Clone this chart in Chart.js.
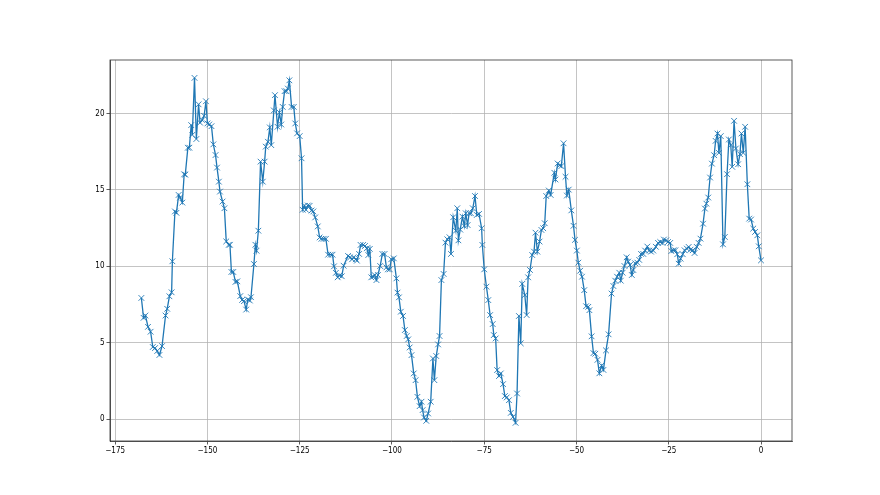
<!DOCTYPE html>
<html>
<head>
<meta charset="utf-8">
<script src="https://cdn.jsdelivr.net/npm/chart.js@4"></script>
<style>
  body { margin: 0; background: #fff; }
</style>
</head>
<body>
<canvas id="myChart" width="880" height="495"></canvas>
<script>
// Series (x = time offset, y = value)
const xValues = [
  -167.9, -167.3, -166.8, -166.1, -165.4, -164.8, -164.2, -163.6, -163.0, -162.3,
  -161.35, -160.9, -160.3, -159.7, -159.5, -158.8, -158.4, -157.8, -157.4, -156.8,
  -156.3, -156.0, -155.3, -154.9, -154.4, -154.1, -153.5, -153.0, -152.4, -152.0,
  -151.4, -150.9, -150.4, -150.0, -149.5, -148.9, -148.4, -147.8, -147.4, -146.9,
  -146.6, -145.9, -145.4, -144.9, -144.2, -143.9, -143.5, -143.0, -142.4, -141.9,
  -141.1, -140.6, -140.1, -139.5, -139.05, -138.5, -138.2, -137.4, -137.0, -136.7,
  -136.2, -135.6, -135.0, -134.5, -134.2, -133.6, -133.1, -132.7, -132.0, -131.7,
  -131.0, -130.5, -130.0, -129.6, -129.1, -128.6, -128.2, -127.8, -127.2, -126.6,
  -126.2, -125.7, -125.0, -124.5, -124.2, -123.7, -123.3, -122.8, -122.3, -121.8,
  -121.3, -120.8, -120.1, -119.6, -119.1, -118.5, -117.9, -117.3, -116.6, -116.1,
  -115.7, -115.2, -114.7, -114.2, -113.6, -113.1, -111.9, -111.3, -110.8, -110.4,
  -109.8, -109.5, -108.9, -108.5, -107.8, -107.3, -106.8, -106.4, -106.0, -105.6,
  -105.1, -104.7, -104.2, -103.8, -103.2, -102.6, -102.0, -101.5, -101.1, -100.6,
  -100.2, -99.5, -98.8, -98.5, -98.1, -97.6, -97.0, -96.5, -96.0, -95.6,
  -95.2, -94.7, -94.1, -93.6, -93.1, -92.5, -92.0, -91.7, -91.3, -90.7,
  -90.2, -89.5, -88.9, -88.5, -88.0, -87.5, -87.1, -86.6, -86.0, -85.5,
  -85.0, -84.4, -84.0, -83.4, -82.7, -82.3, -82.0, -81.5, -80.9, -80.4,
  -80.0, -79.5, -79.1, -78.6, -78.1, -77.5, -77.0, -76.4, -75.7, -75.5,
  -75.0, -74.4, -73.9, -73.4, -72.7, -72.4, -71.9, -71.5, -71.0, -70.5,
  -69.9, -69.4, -68.9, -68.3, -67.8, -67.2, -66.5, -66.1, -65.6, -65.1,
  -64.7, -64.0, -63.5, -63.1, -62.6, -62.0, -61.5, -61.1, -60.6, -60.0,
  -59.5, -59.0, -58.6, -58.2, -57.5, -57.0, -56.0, -55.7, -55.1, -54.6,
  -54.1, -53.5, -52.97, -52.6, -52.1, -51.4, -50.8, -50.4, -49.9, -49.5,
  -49.0, -48.5, -47.9, -47.4, -46.8, -46.5, -45.9, -45.4, -44.9, -44.3,
  -43.8, -43.2, -42.7, -42.0, -41.3, -40.5, -40.0, -39.5, -39.0, -38.4,
  -38.0, -37.5, -37.0, -36.4, -36.0, -35.5, -35.0, -34.6, -34.1, -33.5,
  -33.0, -32.5, -31.9, -31.4, -30.8, -30.3, -29.8, -29.2, -28.5, -27.9,
  -27.3, -26.7, -26.3, -25.7, -25.2, -24.6, -24.3, -23.7, -23.2, -22.7,
  -22.3, -21.8, -21.2, -20.7, -20.1, -19.6, -19.1, -18.5, -18.0, -17.4,
  -16.9, -16.4, -15.7, -15.2, -14.8, -14.3, -13.8, -13.3, -12.7, -12.3,
  -11.8, -11.4, -10.9, -10.3, -9.8, -9.2, -8.7, -8.2, -7.8, -7.3,
  -6.8, -6.2, -5.7, -5.3, -4.8, -4.3, -3.7, -3.2, -2.7, -2.1,
  -1.6, -1.0, -0.6, 0
];
const yValues = [
  7.93, 6.63, 6.78, 6.04, 5.72, 4.72, 4.65, 4.46, 4.2, 4.78,
  6.78, 7.22, 8.04, 8.3, 10.33, 13.59, 13.5, 14.67, 14.5, 14.17,
  16.02, 16.0, 17.76, 17.76, 19.24, 18.6, 22.33, 18.33, 20.6, 19.4,
  19.57, 19.85, 20.8, 19.35, 19.28, 19.17, 17.98, 17.28, 16.46, 15.54,
  14.89, 14.24, 13.8, 11.63, 11.41, 11.41, 9.63, 9.63, 8.98, 9.02,
  8.05, 7.8, 7.72, 7.17, 7.83, 7.76, 7.98, 10.15, 11.41, 11.02,
  12.33, 16.85, 15.54, 16.85, 17.83, 18.15, 19.09, 17.93, 20.2, 21.2,
  19.13, 20.07, 19.28, 20.43, 21.46, 21.46, 21.63, 22.17, 20.43, 20.43,
  19.35, 18.7, 18.52, 17.07, 13.7, 13.96, 13.7, 13.98, 13.96, 13.65,
  13.59, 13.2, 12.61, 11.89, 11.8, 11.8, 11.8, 10.76, 10.76, 10.76,
  10.0, 9.57, 9.28, 9.41, 9.35, 10.04, 10.68, 10.59, 10.46, 10.59,
  10.46, 10.37, 10.81, 11.4, 11.4, 11.33, 11.18, 10.74, 11.14, 9.28,
  9.32, 9.43, 9.1, 9.43, 10.02, 10.81, 10.81, 9.93, 9.8, 9.8,
  10.46, 10.52, 9.21, 8.28, 7.97, 7.03, 6.75, 5.83, 5.44, 5.22,
  4.69, 4.19, 2.99, 2.55, 1.46, 0.85, 1.14, 0.59, 0.11, -0.11,
  0.37, 1.14, 3.97, 2.55, 4.13, 4.89, 5.44, 9.1, 9.5, 11.55,
  11.77, 11.9, 10.81, 13.21, 12.33, 13.8, 11.7, 12.4, 13.25, 12.64,
  13.47, 12.7, 13.47, 13.47, 13.8, 14.6, 13.36, 13.43, 12.49, 11.4,
  9.8, 8.67, 7.79, 6.81, 6.22, 5.5, 5.28, 3.21, 2.82, 2.99,
  2.29, 1.51, 1.42, 1.24, 0.41, 0.15, -0.24, 1.68, 6.75, 4.96,
  8.85, 8.12, 6.81, 9.28, 9.76, 10.74, 10.96, 12.2, 10.96, 11.62,
  12.38, 12.49, 12.82, 14.6, 14.96, 14.67, 16.12, 15.68, 16.73, 16.6,
  16.56, 18.05, 15.86, 14.63, 15.02, 13.66, 12.65, 11.73, 11.03, 10.24,
  9.71, 9.32, 8.44, 7.39, 7.35, 7.13, 5.42, 4.32, 4.28, 3.88,
  3.0, 3.51, 3.22, 4.5, 5.55, 8.22, 8.71, 9.06, 9.32, 9.58,
  9.06, 9.58, 10.02, 10.59, 10.31, 10.09, 9.43, 9.76, 10.2, 10.24,
  10.42, 10.81, 10.81, 11.03, 11.29, 11.03, 10.96, 11.03, 11.28, 11.53,
  11.59, 11.53, 11.75, 11.7, 11.59, 11.53, 11.0, 11.05, 11.05, 10.79,
  10.17, 10.5, 10.79, 11.05, 11.16, 11.27, 11.09, 11.05, 10.87, 11.27,
  11.53, 11.81, 12.79, 13.78, 14.1, 14.5, 15.81, 16.72, 17.27, 18.21,
  18.69, 17.42, 18.52, 11.44, 11.92, 16.03, 18.3, 17.93, 16.51, 19.52,
  17.71, 16.68, 17.34, 18.69, 17.42, 19.13, 15.37, 13.12, 13.06, 12.47,
  12.25, 12.03, 11.31, 10.39
];

// Tick labels
const xTicks = [-175, -150, -125, -100, -75, -50, -25, 0];
const yTicks = [0, 5, 10, 15, 20];

const points = xValues.map((x, i) => ({ x: x, y: yValues[i] }));
const minus = v => String(v).replace('-', '\u2212');
const tickFont = { family: "'DejaVu Sans Condensed', 'DejaVu Sans'", size: 8 };

// full box around the plot area (matplotlib spines)
const frame = {
  id: 'frame',
  afterDraw(chart) {
    const a = chart.chartArea, c = chart.ctx;
    c.save();
    c.strokeStyle = '#333';
    c.lineWidth = 0.8;
    c.strokeRect(a.left, a.top, a.right - a.left, a.bottom - a.top);
    c.restore();
  }
};

new Chart(document.getElementById('myChart').getContext('2d'), {
  type: 'line',
  data: {
    datasets: [{
      data: points,
      borderColor: '#1f77b4',
      backgroundColor: '#1f77b4',
      borderWidth: 1.3,
      tension: 0,
      pointStyle: 'crossRot',
      pointRadius: 4,
      pointBorderWidth: 0.9,
      pointBorderColor: '#1f77b4',
      pointHoverRadius: 4
    }]
  },
  options: {
    responsive: false,
    animation: false,
    layout: { padding: { left: 0, right: 88, top: 60, bottom: 0 } },
    plugins: { legend: { display: false }, tooltip: { enabled: false } },
    scales: {
      x: {
        type: 'linear',
        min: -176.4,
        max: 8.4,
        afterFit: s => { s.height = 54; },
        afterBuildTicks: s => { s.ticks = xTicks.map(v => ({ value: v })); },
        grid: { color: '#b0b0b0', lineWidth: 0.75, tickColor: '#333', tickLength: 3.5, tickWidth: 0.8 },
        border: { color: '#333', width: 0.8 },
        ticks: { color: '#000', padding: 2, maxRotation: 0, font: tickFont, callback: v => minus(v) }
      },
      y: {
        min: -1.43,
        max: 23.5,
        afterFit: s => { s.width = 110; },
        afterBuildTicks: s => { s.ticks = yTicks.map(v => ({ value: v })); },
        grid: { color: '#b0b0b0', lineWidth: 0.75, tickColor: '#333', tickLength: 3.5, tickWidth: 0.8 },
        border: { color: '#333', width: 0.8 },
        ticks: { color: '#000', padding: 2, font: tickFont, callback: v => minus(v) }
      }
    }
  },
  plugins: [frame]
});
</script>
</body>
</html>
